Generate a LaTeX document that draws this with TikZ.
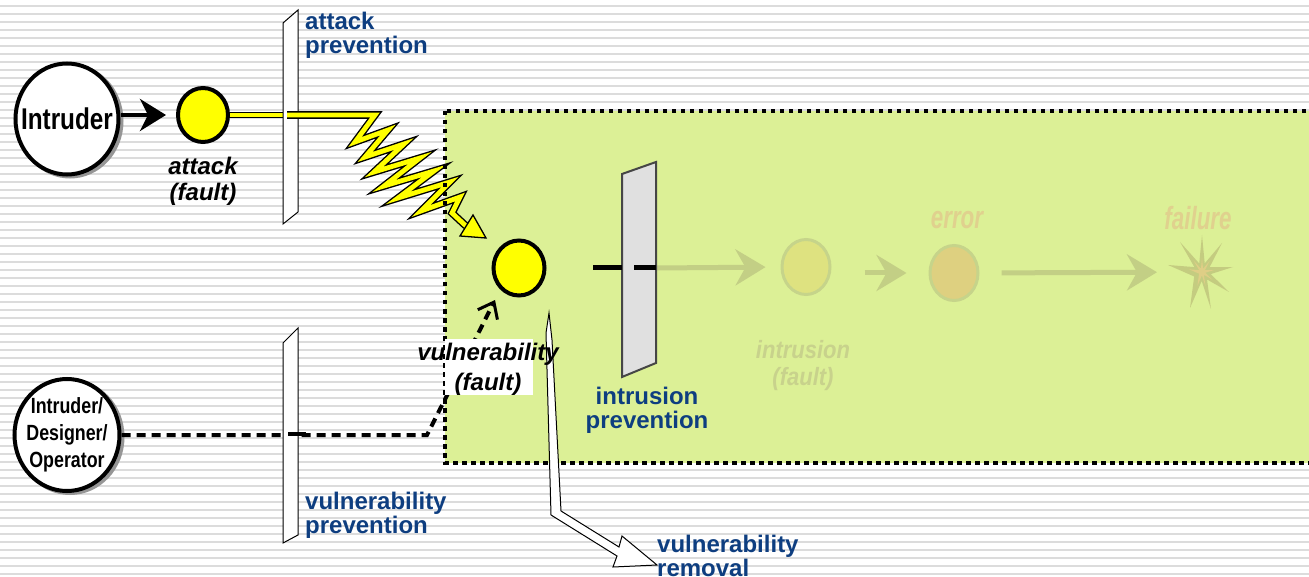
\documentclass[tikz,border=0pt]{standalone}
\usepackage{fontspec}
\setmainfont{Liberation Sans}
\newfontfamily\condA[FakeStretch=0.81]{Liberation Sans}
\newfontfamily\condB[FakeStretch=0.70]{Liberation Sans}
\newfontfamily\condC[FakeStretch=0.88]{Liberation Sans}
\usetikzlibrary{arrows.meta,shapes.geometric}

\definecolor{stripegray}{RGB}{220,220,220}
\definecolor{boxgreen}{RGB}{220,240,150}
\definecolor{labelblue}{RGB}{14,62,128}
\definecolor{faultyellow}{RGB}{255,255,0}
\definecolor{barriergray}{RGB}{224,224,224}
\definecolor{barrierline}{RGB}{70,70,70}
\definecolor{fadedarrowc}{RGB}{195,207,133}
\definecolor{fadedline}{RGB}{198,212,138}
\definecolor{intrfill}{RGB}{222,226,128}
\definecolor{errfill}{RGB}{222,208,128}
\definecolor{starfill}{RGB}{196,204,128}
\definecolor{starcore}{RGB}{222,206,134}
\definecolor{fadedtan}{RGB}{224,209,142}
\definecolor{fadedtext}{RGB}{200,210,140}
\definecolor{shadowgray}{RGB}{150,150,150}

\begin{document}
\begin{tikzpicture}[x=1pt,y=-1pt,
  bubble/.style={ellipse, draw=black, line width=4pt, fill=white, inner sep=0pt},
  shadowbubble/.style={ellipse, draw=shadowgray, line width=4pt, fill=shadowgray, inner sep=0pt},
  fault/.style={ellipse, draw=black, line width=4pt, fill=faultyellow, inner sep=0pt,
    minimum width=50pt, minimum height=54pt},
  fadedcircle/.style={ellipse, draw=fadedline, line width=3pt, inner sep=0pt,
    minimum width=48pt, minimum height=55pt},
  fadedarrow/.style={draw=fadedarrowc, line width=5pt,
    -{Stealth[length=30pt,width=36pt,inset=10pt]}},
  barrier/.style={draw=black, line width=1pt, fill=white},
  bluelabel/.style={text=labelblue, inner sep=0pt, align=left,
    font=\fontsize{24}{24}\selectfont\bfseries},
  faultlabel/.style={inner sep=0pt, align=center},
  yellowband/.style={draw=black, line width=1.2pt, double=faultyellow,
    double distance=3.6pt, line join=miter, miter limit=12},
  dashline/.style={line width=4pt, dash pattern=on 9pt off 6pt,
    -{Straight Barb[length=14pt,width=22pt,line width=3pt]}},
  stripe/.style={fill=stripegray}
]
\clip (0,0) rectangle (1309,577);
\fill[white] (0,0) rectangle (1309,577);
% ruled background
\foreach \k in {0,...,71} \fill[stripe] (0,{5+8*\k}) rectangle (1309,{7+8*\k});

% system boundary
\fill[boxgreen] (445,111) rectangle (1320,463);

% ---- faded propagation chain: intrusion -> error -> failure ----
\node[fadedcircle, fill=intrfill] (intrus) at (806,267) {};
\node[fadedcircle, fill=errfill] (err) at (954,273) {};
\coordinate (fail) at (1202,272);
\coordinate (ipR) at (656,268);
\draw[fadedarrow, shorten >=15pt] (ipR) -- (intrus.west);
\draw[fadedarrow, shorten <=33pt, shorten >=22pt] (intrus.east |- err.west) -- (err.west);
\draw[fadedarrow, shorten <=22pt, shorten >=45pt] (err.east) -- (fail);
\begin{scope}[shift={(fail)}]
  \fill[starfill] (0,-37) -- (2.7,-8.6) -- (20,-29) -- (7.6,-4.8) -- (31,-5) -- (8.7,2.1)
    -- (27,20) -- (5,7.5) -- (9,37) -- (-0.3,9) -- (-12,36) -- (-7.8,4.5) -- (-34,-7)
    -- (-7.6,-4.9) -- (-22,-30) -- (-2.8,-8.6) -- cycle;
  \begin{scope}[scale=0.38]
    \fill[starcore] (0,-37) -- (2.7,-8.6) -- (20,-29) -- (7.6,-4.8) -- (31,-5) -- (8.7,2.1)
      -- (27,20) -- (5,7.5) -- (9,37) -- (-0.3,9) -- (-12,36) -- (-7.8,4.5) -- (-34,-7)
      -- (-7.6,-4.9) -- (-22,-30) -- (-2.8,-8.6) -- cycle;
  \end{scope}
\end{scope}
\node[anchor=base, inner sep=0pt, text=fadedtan,
  font=\condB\fontsize{32}{32}\selectfont\bfseries\itshape] (errLabel) at (957,229) {error};
\node[anchor=base, inner sep=0pt, text=fadedtan,
  font=\condB\fontsize{32}{32}\selectfont\bfseries\itshape] (failLabel) at (1198,230) {failure};
\node[faultlabel, anchor=north, text=fadedtext,
  font=\condC\fontsize{25}{27}\selectfont\bfseries\itshape] (intrLabel) at (803,340) {intrusion\\(fault)};

% ---- attack path ----
\node[shadowbubble, minimum width=103pt, minimum height=111pt] at (70,121) {};
\node[bubble, minimum width=103pt, minimum height=111pt] (intruder) at (67,119) {};
\node[inner sep=0pt, font=\condA\fontsize{30}{30}\selectfont\bfseries] (intruderText) at (intruder.center) {Intruder};
\node[fault] (attack) at (203,115) {};
\draw[line width=4pt, -{Stealth[length=26pt,width=32pt,inset=8pt]}, shorten >=10pt]
  (intruder.east |- attack.west) -- (attack.west);
\node[faultlabel, anchor=north, font=\fontsize{24}{26}\selectfont\bfseries\itshape]
  (attackLabel) at (203,157) {attack\\(fault)};

\coordinate (apIn) at (283,115);
\coordinate (apOut) at (287,115);
\draw[yellowband] (attack.east) -- (apIn);
\filldraw[barrier] (283,23) -- (298,10) -- (298,212) -- (283,224) -- cycle;

% lightning bolt of the attack
\draw[yellowband, line width=1.4pt, double distance=4.8pt] (apOut) -- (375,115)
  -- (355,142) -- (388,130) -- (365,157) -- (404,144) -- (374,172) -- (420,158)
  -- (384,186) -- (434,171) -- (398,198) -- (450,182) -- (421,211) -- (460,197)
  -- (452,213) -- (466,226);
\coordinate (boltTip) at (486,238);
\filldraw[fill=faultyellow, draw=black, line width=1.3pt]
  (boltTip) -- (460,236) -- (473,215) -- cycle;

% ---- vulnerability path ----
\node[shadowbubble, minimum width=105pt, minimum height=112pt] at (70,437) {};
\node[bubble, minimum width=105pt, minimum height=112pt] (ido) at (67,435) {};
\node[inner sep=0pt, align=center, font=\condA\fontsize{22}{27}\selectfont\bfseries]
  (idoText) at (ido.center) {Intruder/\\Designer/\\Operator};
\coordinate (idoBend) at (427,435);
\coordinate (vtip) at (495,300);
\draw[dashline] (ido.east) -- (idoBend) -- (vtip);
\filldraw[barrier] (283,343) -- (298,328) -- (298,535) -- (283,543) -- cycle;
\draw[line width=4pt] (288,433.5) -- (306,433.5);

\node[fault, minimum width=51pt, minimum height=55pt] (vuln) at (519,268) {};

% intrusion prevention barrier
\filldraw[fill=barriergray, draw=barrierline, line width=2pt]
  (622,174) -- (656,162) -- (656,363) -- (622,377) -- cycle;
\draw[line width=5pt] (593,268) -- (622,268);
\draw[line width=5pt] (634,268) -- (ipR);

% boundary outline
\draw[line width=3.5pt, dash pattern=on 4.5pt off 4.5pt] (445,111) rectangle (1320,463);

% label patch
\fill[white] (445,339) rectangle (533,395);

% vulnerability removal arrow
\filldraw[fill=white, draw=black, line width=1pt]
  (549,313) -- (546,333) -- (551,515) -- (617,556) -- (613,567) -- (657,565)
  -- (622,536) -- (619,547) -- (561,511) -- (552,340) -- cycle;

\node[faultlabel, anchor=north, font=\fontsize{24}{30}\selectfont\bfseries\itshape]
  (vulnLabel) at (488,343) {vulnerability\\(fault)};

% barrier labels
\node[bluelabel, anchor=north west] (apLabel) at (305,12) {attack\\prevention};
\node[bluelabel, anchor=north west] (vpLabel) at (305,492) {vulnerability\\prevention};
\node[bluelabel, anchor=north, align=center] (ipLabel) at (647,387) {intrusion\\prevention};
\node[bluelabel, anchor=north west] (vrLabel) at (657,535) {vulnerability\\removal};
\end{tikzpicture}
\end{document}
